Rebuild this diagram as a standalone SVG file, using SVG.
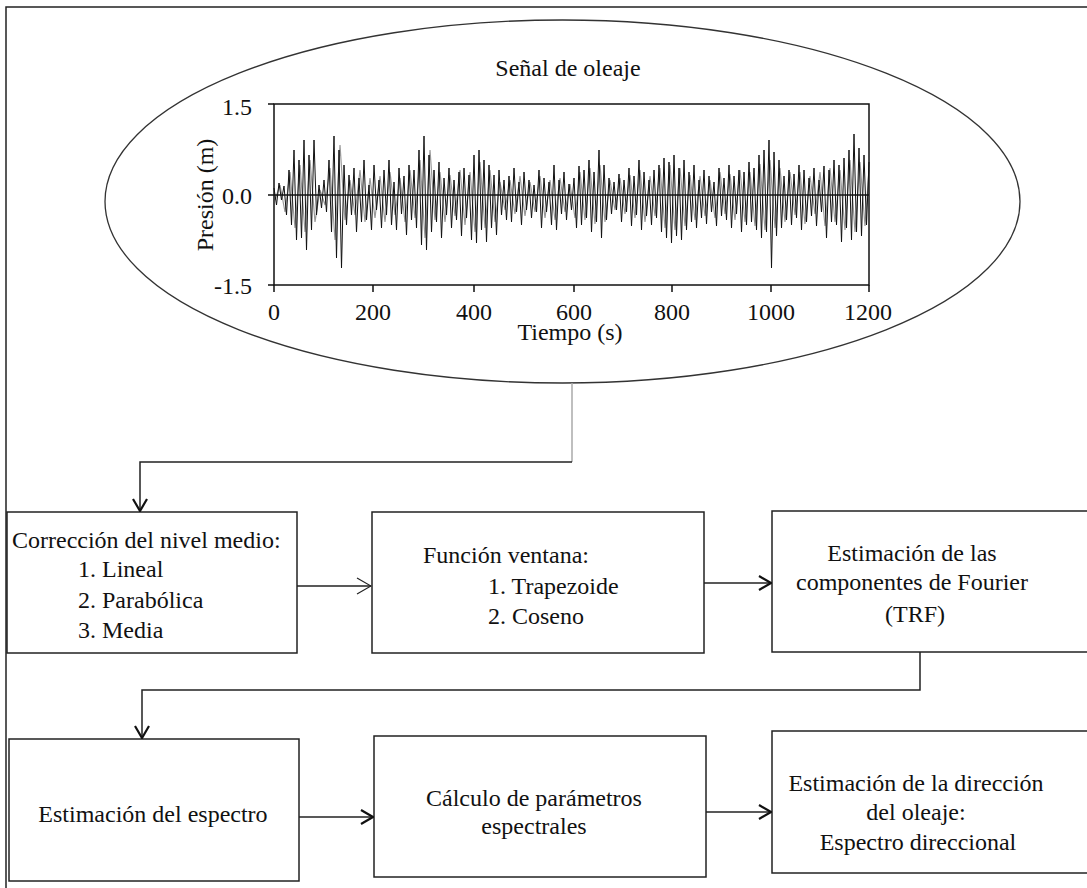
<svg xmlns="http://www.w3.org/2000/svg" width="1087" height="888" viewBox="0 0 1087 888">
<style>
text{font-family:"Liberation Serif","Times New Roman",serif;font-size:24px;fill:#111}
.box{fill:#fff;stroke:#222;stroke-width:1.5}
.ax{fill:none;stroke:#111;stroke-width:1.5}
.conn{fill:none;stroke:#222;stroke-width:1.5}
.mid{text-anchor:middle}
.end{text-anchor:end}
</style>
<defs>
<marker id="vee" viewBox="0 0 14 16" refX="13" refY="8" markerWidth="14" markerHeight="16" markerUnits="userSpaceOnUse" orient="auto">
<path d="M1,1 L13,8 L1,15" fill="none" stroke="#111" stroke-width="2.2"/>
</marker>
<marker id="thin" viewBox="0 0 16 18" refX="15" refY="9" markerWidth="16" markerHeight="18" markerUnits="userSpaceOnUse" orient="auto">
<path d="M1,1 L15,9 L1,17" fill="none" stroke="#222" stroke-width="1.2"/>
</marker>
</defs>
<rect width="1087" height="888" fill="#fff"/>
<g id="frame">
<path d="M6,888 V7 H1087" fill="none" stroke="#222" stroke-width="1.5"/>
</g>
<g id="signal">
<ellipse cx="562.5" cy="201.5" rx="457.5" ry="181.5" fill="#fff" stroke="#333" stroke-width="1.3"/>
<text class="mid" x="568" y="76">Señal de oleaje</text>
<polyline fill="none" stroke="#999" stroke-width="1.2" points="275,200 280,185 285,212 290,172 295,228 300,165 305,232 310,160 315,222 320,190 325,205 330,168 335,240 340,145 345,220 350,180 355,215 360,170 365,222 370,178 375,218 380,176 385,222 390,172 395,215 400,178 405,222 410,170 415,218 420,160 425,238 430,150 435,220 440,172 445,222 450,175 455,216 460,170 465,225 470,172 475,232 480,162 485,228 490,170 495,222 500,182 505,210 510,180 515,214 520,176 525,216 530,182 535,212 540,176 545,218 550,180 555,220 560,178 565,212 570,184 575,218 580,172 585,220 590,168 595,224 600,165 605,222 610,180 615,210 620,178 625,214 630,175 635,218 640,170 645,222 650,176 655,216 660,168 665,228 670,165 675,230 680,168 685,226 690,175 695,220 700,176 705,216 710,180 715,218 720,172 725,214 730,174 735,220 740,170 745,222 750,172 755,226 760,164 765,230 770,160 775,228 780,168 785,222 790,172 795,215 800,172 805,224 810,176 815,214 820,172 825,226 830,168 835,222 840,170 845,230 850,160 855,232 860,162 865,226 869,170"/>
<polyline fill="none" stroke="#111" stroke-width="1" points="274,188 276.5,205 279,183 281.5,200 284,186 286.5,215 289,170 291.5,225 294,150 296.5,240 299,160 301.5,238 304,140 306.5,250 309,155 311.5,230 314,140 316.5,215 319,185 321.5,208 324,180 326.5,212 329,160 331.5,232 334,136 336.5,258 339,150 341.5,268 344,165 346.5,225 349,175 351.5,215 354,168 356.5,232 359,178 361.5,222 364,160 366.5,220 369,185 371.5,230 374,165 376.5,210 379,180 381.5,228 384,170 386.5,215 389,160 391.5,225 394,182 396.5,230 399,168 401.5,214 404,176 406.5,235 409,165 411.5,220 414,170 416.5,228 419,150 421.5,245 424,136 426.5,250 429,155 431.5,232 434,170 436.5,222 439,162 441.5,238 444,178 446.5,215 449,168 451.5,228 454,180 456.5,220 459,172 461.5,236 464,168 466.5,218 469,175 471.5,240 474,155 476.5,243 479,150 481.5,230 484,160 486.5,242 489,165 491.5,228 494,175 496.5,235 499,170 501.5,215 504,180 506.5,220 509,176 511.5,222 514,168 516.5,212 519,182 521.5,225 524,172 526.5,210 529,180 531.5,218 534,185 536.5,212 539,170 541.5,228 544,178 546.5,212 549,182 551.5,225 554,165 556.5,230 559,180 561.5,214 564,172 566.5,220 569,184 571.5,210 574,178 576.5,228 579,166 581.5,225 584,170 586.5,218 589,160 591.5,232 594,172 596.5,222 599,150 601.5,238 604,165 606.5,220 609,178 611.5,214 614,182 616.5,210 619,174 621.5,222 624,180 626.5,212 629,168 631.5,226 634,176 636.5,215 639,160 641.5,230 644,172 646.5,216 649,180 651.5,225 654,170 656.5,218 659,165 661.5,232 664,158 666.5,238 669,162 671.5,243 674,155 676.5,236 679,168 681.5,240 684,160 686.5,230 689,172 691.5,222 694,165 696.5,228 699,180 701.5,218 704,170 706.5,224 709,176 711.5,212 714,182 716.5,226 719,168 721.5,216 724,178 726.5,220 729,165 731.5,228 734,176 736.5,214 739,170 741.5,232 744,172 746.5,225 749,162 751.5,222 754,168 756.5,230 759,155 761.5,238 764,150 766.5,232 769,140 771.5,268 774,152 776.5,236 779,160 781.5,228 784,176 786.5,220 789,170 791.5,225 794,174 796.5,218 799,165 801.5,230 804,170 806.5,222 809,178 811.5,216 814,168 816.5,226 819,180 821.5,212 824,166 826.5,238 829,170 831.5,222 834,160 836.5,225 839,165 841.5,242 844,158 846.5,228 849,150 851.5,240 854,134 856.5,232 859,148 861.5,236 864,155 866.5,225 869,162"/>
<line x1="274" y1="195" x2="869" y2="195" stroke="#111" stroke-width="1.5"/>
<rect class="ax" x="274" y="104" width="595" height="181"/>
<path class="ax" d="M268,104 H274 M268,195 H274 M268,285 H274 M274,285 V292 M373,285 V292 M474,285 V292 M574,285 V292 M672,285 V292 M771,285 V292 M869,285 V292"/>
<text class="end" x="252" y="115">1.5</text>
<text class="end" x="252" y="204">0.0</text>
<text class="end" x="252" y="294">-1.5</text>
<text class="mid" x="274" y="320">0</text>
<text class="mid" x="373" y="320">200</text>
<text class="mid" x="474" y="320">400</text>
<text class="mid" x="574" y="320">600</text>
<text class="mid" x="672" y="320">800</text>
<text class="mid" x="771" y="320">1000</text>
<text class="mid" x="868" y="320">1200</text>
<text class="mid" x="570" y="340">Tiempo (s)</text>
<text class="mid" transform="translate(213,195) rotate(-90)">Presión (m)</text>
</g>
<g id="box1">
<rect class="box" x="7" y="512" width="290" height="141"/>
<text x="12" y="548">Corrección del nivel medio:</text>
<text x="78" y="577">1. Lineal</text>
<text x="78" y="608">2. Parabólica</text>
<text x="78" y="638">3. Media</text>
</g>
<g id="box2">
<rect class="box" x="372" y="512" width="332" height="141"/>
<text x="423" y="563">Función ventana:</text>
<text x="488" y="594">1. Trapezoide</text>
<text x="488" y="624">2. Coseno</text>
</g>
<g id="box3">
<rect class="box" x="772" y="511" width="330" height="141"/>
<text class="mid" x="912" y="561">Estimación de las</text>
<text class="mid" x="912" y="590">componentes de Fourier</text>
<text class="mid" x="915" y="622">(TRF)</text>
</g>
<g id="box4">
<rect class="box" x="9" y="739" width="290" height="142"/>
<text class="mid" x="153" y="822">Estimación del espectro</text>
</g>
<g id="box5">
<rect class="box" x="374" y="736" width="332" height="141"/>
<text class="mid" x="534" y="806">Cálculo de parámetros</text>
<text class="mid" x="534" y="834">espectrales</text>
</g>
<g id="box6">
<rect class="box" x="772" y="731" width="330" height="142"/>
<text class="mid" x="916" y="791">Estimación de la dirección</text>
<text class="mid" x="916" y="820">del oleaje:</text>
<text class="mid" x="918" y="850">Espectro direccional</text>
</g>
<g id="connectors">
<line x1="572" y1="383" x2="572" y2="462" stroke="#aaa" stroke-width="1.5"/>
<path class="conn" d="M572,462 H140 V511" marker-end="url(#vee)"/>
<path class="conn" d="M297,586 H371" marker-end="url(#thin)"/>
<path class="conn" d="M704,583 H771" marker-end="url(#vee)"/>
<path class="conn" d="M920,652 V690 H142 V738" marker-end="url(#vee)"/>
<path class="conn" d="M299,817 H373" marker-end="url(#vee)"/>
<path class="conn" d="M706,812 H771" marker-end="url(#vee)"/>
</g>
</svg>
